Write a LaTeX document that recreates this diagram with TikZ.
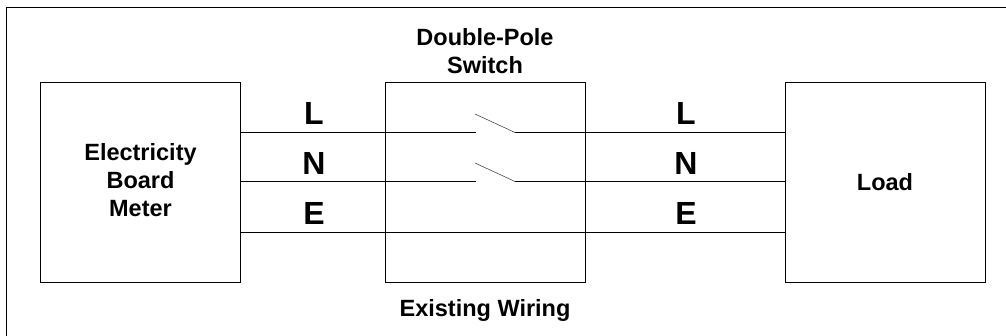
\documentclass[tikz,border=0pt]{standalone}
\usepackage{fontspec}
\setmainfont{Liberation Sans}
\tikzset{
 px/.style={x=1pt,y=-1pt},
 unitbox/.style={draw=black,line width=1pt,minimum width=200pt,minimum height=200pt,inner sep=0pt,outer sep=0pt,anchor=north west,align=center,font=\bfseries\fontsize{23.5}{28}\selectfont},
 wirelabel/.style={font=\bfseries\fontsize{32}{36}\selectfont,inner sep=0pt},
 caption/.style={font=\bfseries\fontsize{23.5}{28}\selectfont,align=center,inner sep=0pt},
 wire/.style={draw=black,line width=1pt},
 blade/.style={draw=black!70,line width=0.6pt},
}
\begin{document}
\begin{tikzpicture}[px]
\useasboundingbox (0,0) rectangle (1006,336);
\fill[white] (0,0) rectangle (1006,336);
\draw[wire] (6.5,336) -- (6.5,7.5) -- (1006,7.5);
\node[unitbox] (meter) at (40.5,82.5) {\raisebox{0.8pt}{\begin{tabular}{@{}c@{}}Electricity\\[0pt]Board\\[0pt]Meter\end{tabular}}};
\node[unitbox] (sw) at (385.5,82.5) {};
\node[unitbox] (load) at (785,82.5) {Load};
\coordinate (a1) at (476,132.5);
\coordinate (a2) at (515,132.5);
\coordinate (b1) at (476,181.5);
\coordinate (b2) at (515,181.5);
\coordinate (a0) at (meter.east |- a1);
\coordinate (a3) at (load.west |- a1);
\coordinate (b0) at (meter.east |- b1);
\coordinate (b3) at (load.west |- b1);
\draw[wire] (a0) -- (a1);
\draw[wire] (a2) -- (a3);
\draw[wire] (b0) -- (b1);
\draw[wire] (b2) -- (b3);
\draw[blade] (a2) -- (475,114);
\draw[blade] (b2) -- (475,163);
\coordinate (e0) at (meter.east |- 0,232.5);
\coordinate (e1) at (load.west |- 0,232.5);
\draw[wire] (e0) -- (e1);
\node[wirelabel] (l1) at (314,113) {L};
\node[wirelabel] (n1) at (314,163) {N};
\node[wirelabel] (e1l) at (314,213) {E};
\node[wirelabel] (l2) at (686,113) {L};
\node[wirelabel] (n2) at (686,163) {N};
\node[wirelabel] (e2l) at (686,213) {E};
\node[caption] (t1) at (485,51) {Double-Pole\\Switch};
\node[caption] (t2) at (485,310) {Existing Wiring};
\end{tikzpicture}
\end{document}
